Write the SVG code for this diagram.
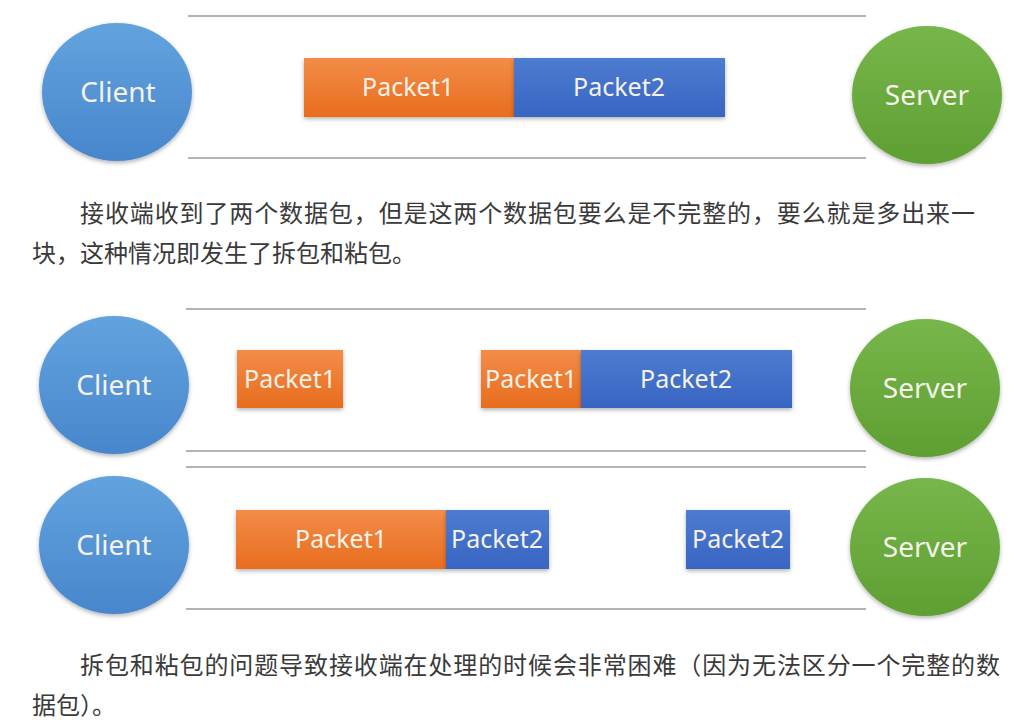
<svg xmlns="http://www.w3.org/2000/svg" width="1022" height="726" viewBox="0 0 1022 726">
<style>
.rule{stroke:#b4b4b4;stroke-width:2;fill:none}
.lbl{font-family:"Noto Sans","Open Sans",sans-serif;fill:#f6f2ea;text-anchor:middle}
.node{font-size:28px}
.pk{font-size:25px}
.cn{font-family:"Noto Sans CJK SC","Noto Sans",sans-serif;font-size:24px;fill:#3a3a3a}
</style>
<defs>
<filter id="sh" x="-20%" y="-20%" width="140%" height="150%">
<feDropShadow dx="0" dy="2" stdDeviation="2" flood-color="#000" flood-opacity="0.3"/>
</filter>
<linearGradient id="gBlue" x1="0" y1="0" x2="0" y2="1"><stop offset="0" stop-color="#62A3DE"/><stop offset="1" stop-color="#4886CC"/></linearGradient>
<linearGradient id="gGreen" x1="0" y1="0" x2="0" y2="1"><stop offset="0" stop-color="#77B64A"/><stop offset="1" stop-color="#5F9F33"/></linearGradient>
<linearGradient id="gOr" x1="0" y1="0" x2="0" y2="1"><stop offset="0" stop-color="#F38C48"/><stop offset="1" stop-color="#E86D1E"/></linearGradient>
<linearGradient id="gPb" x1="0" y1="0" x2="0" y2="1"><stop offset="0" stop-color="#4C7CD0"/><stop offset="1" stop-color="#3865C2"/></linearGradient>
</defs>
<rect width="1022" height="726" fill="#ffffff"/>

<g id="connectors">
<line class="rule" x1="188" y1="16" x2="866" y2="16"/>
<line class="rule" x1="188" y1="158" x2="866" y2="158"/>
<line class="rule" x1="186" y1="309" x2="866" y2="309"/>
<line class="rule" x1="186" y1="451" x2="866" y2="451"/>
<line class="rule" x1="186" y1="467" x2="866" y2="467"/>
<line class="rule" x1="186" y1="609" x2="866" y2="609"/>
</g>

<g id="client1"><ellipse cx="117" cy="92" rx="75" ry="69" fill="url(#gBlue)" filter="url(#sh)"/><text class="lbl node" x="118" y="102">Client</text></g>
<g id="server1"><ellipse cx="927" cy="95" rx="75" ry="69" fill="url(#gGreen)" filter="url(#sh)"/><text class="lbl node" x="927" y="105">Server</text></g>

<g id="row1-packet1"><rect x="304" y="58" width="210" height="59" fill="url(#gOr)" filter="url(#sh)"/><text class="lbl pk" x="408" y="96">Packet1</text></g>
<g id="row1-packet2"><rect x="514" y="58" width="211" height="59" fill="url(#gPb)" filter="url(#sh)"/><text class="lbl pk" x="619" y="96">Packet2</text></g>

<g id="text1">
<text class="cn" x="80" y="222" textLength="895" lengthAdjust="spacing">接收端收到了两个数据包，但是这两个数据包要么是不完整的，要么就是多出来一</text>
<text class="cn" x="32" y="262">块，这种情况即发生了拆包和粘包。</text>
</g>

<g id="client2"><ellipse cx="114" cy="385" rx="75" ry="69" fill="url(#gBlue)" filter="url(#sh)"/><text class="lbl node" x="114" y="395">Client</text></g>
<g id="server2"><ellipse cx="925" cy="388" rx="75" ry="69" fill="url(#gGreen)" filter="url(#sh)"/><text class="lbl node" x="925" y="398">Server</text></g>

<g id="row2-packet1a"><rect x="237" y="350" width="106" height="58" fill="url(#gOr)" filter="url(#sh)"/><text class="lbl pk" x="290" y="388">Packet1</text></g>
<g id="row2-packet1b"><rect x="481" y="350" width="100" height="58" fill="url(#gOr)" filter="url(#sh)"/><text class="lbl pk" x="531" y="388">Packet1</text></g>
<g id="row2-packet2"><rect x="581" y="350" width="211" height="58" fill="url(#gPb)" filter="url(#sh)"/><text class="lbl pk" x="686" y="388">Packet2</text></g>

<g id="client3"><ellipse cx="114" cy="545" rx="75" ry="69" fill="url(#gBlue)" filter="url(#sh)"/><text class="lbl node" x="114" y="555">Client</text></g>
<g id="server3"><ellipse cx="925" cy="547" rx="75" ry="69" fill="url(#gGreen)" filter="url(#sh)"/><text class="lbl node" x="925" y="557">Server</text></g>

<g id="row3-packet1"><rect x="236" y="510" width="210" height="59" fill="url(#gOr)" filter="url(#sh)"/><text class="lbl pk" x="341" y="548">Packet1</text></g>
<g id="row3-packet2a"><rect x="446" y="510" width="103" height="59" fill="url(#gPb)" filter="url(#sh)"/><text class="lbl pk" x="497" y="548">Packet2</text></g>
<g id="row3-packet2b"><rect x="686" y="510" width="104" height="59" fill="url(#gPb)" filter="url(#sh)"/><text class="lbl pk" x="738" y="548">Packet2</text></g>

<g id="text2">
<text class="cn" x="80" y="674" textLength="920" lengthAdjust="spacing">拆包和粘包的问题导致接收端在处理的时候会非常困难（因为无法区分一个完整的数</text>
<text class="cn" x="32" y="714">据包）。</text>
</g>
</svg>
